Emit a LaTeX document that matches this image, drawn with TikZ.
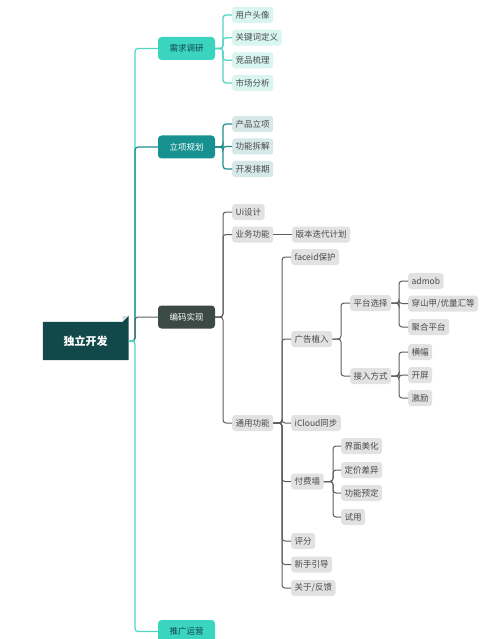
\documentclass[tikz,border=0pt]{standalone}
\usepackage{fontspec}
\setmainfont{Noto Sans CJK SC}
\definecolor{rootc}{HTML}{12484A}
\definecolor{turq}{HTML}{3AD4BF}
\definecolor{teal2}{HTML}{17918F}
\definecolor{darkg}{HTML}{3B4A45}
\definecolor{turqL}{HTML}{D8F5F0}
\definecolor{tealL}{HTML}{D6E8E8}
\definecolor{grayL}{HTML}{E2E2E2}
\definecolor{lnturq}{HTML}{4DD6C3}
\definecolor{lnteal}{HTML}{1E8E8C}
\definecolor{lngray}{HTML}{5E5E5E}
\definecolor{txtd}{HTML}{4A4A4A}
\newcommand\mmconn[4]{\draw[#1] (#2.east) -- (#2.east -| #3) |- (#4.west);}
\begin{document}
\begin{tikzpicture}[x=1bp,y=-1bp,
  lone/.style={rounded corners=3.5bp, minimum width=57bp, minimum height=23bp, inner sep=0pt,
    font=\fontsize{8.5bp}{10bp}\selectfont},
  leaf/.style={rounded corners=3bp, minimum height=16bp, inner xsep=3.5bp, inner ysep=0pt,
    anchor=west, text=txtd, font=\fontsize{8.5bp}{10bp}\selectfont},
  la/.style={leaf, fill=turqL},
  lb/.style={leaf, fill=tealL},
  lc/.style={leaf, fill=grayL},
  ea/.style={draw=lnturq, line width=1.2bp, rounded corners=3bp},
  eb/.style={draw=lnteal, line width=1.2bp, rounded corners=3bp},
  ec/.style={draw=lngray, line width=1bp, rounded corners=3bp}
]
\useasboundingbox (0,0) rectangle (500,639);
\fill[white] (0,0) rectangle (500,639);

% bracket coordinates
\coordinate (s) at (135,0);
\coordinate (b1) at (223,0);
\coordinate (b3) at (223,0);
\coordinate (b5) at (282,0);
\coordinate (b6) at (341,0);
\coordinate (b7) at (399,0);
\coordinate (b9) at (333,0);

% root
\node[minimum width=85.5bp, minimum height=38bp, inner sep=0pt] (r) at (85.7,341) {};
\fill[rootc] (r.south west) -- (r.north west) -- ([xshift=-6bp]r.north east) -- ([yshift=6bp]r.north east) -- (r.south east) -- cycle;
\fill[white!82!rootc] ([xshift=-6bp]r.north east) -- ([yshift=6bp]r.north east) -- ([xshift=-6bp,yshift=6bp]r.north east) -- cycle;
\node[text=white, font=\fontsize{11bp}{13bp}\selectfont\bfseries] at (r) {独立开发};

% level 1
\node[lone, fill=turq, text=rootc] (n1) at (186.5,48.5) {需求调研};
\node[lone, fill=teal2, text=white] (n2) at (186.5,147) {立项规划};
\node[lone, fill=darkg, text=white] (n3) at (186.5,317) {编码实现};
\node[lone, fill=turq, text=rootc] (n4) at (186.5,631.5) {推广运营};

\mmconn{ea}{r}{s}{n1}
\mmconn{ea}{r}{s}{n4}
\mmconn{eb}{r}{s}{n2}
\mmconn{ec}{r}{s}{n3}
\draw[ea] (r.east) -- (r.east -| s);

% 需求调研 children
\node[la] (a1) at (232,15) {用户头像};
\node[la] (a2) at (232,37.7) {关键词定义};
\node[la] (a3) at (232,60.3) {竞品梳理};
\node[la] (a4) at (232,83) {市场分析};
\foreach \c in {a1,a2,a3,a4} {\mmconn{ea}{n1}{b1}{\c}}

% 立项规划 children
\node[lb] (p1) at (232,124) {产品立项};
\node[lb] (p2) at (232,146.5) {功能拆解};
\node[lb] (p3) at (232,169) {开发排期};
\foreach \c in {p1,p2,p3} {\mmconn{eb}{n2}{b1}{\c}}

% 编码实现 children
\node[lc] (c1) at (232,212) {Ui设计};
\node[lc] (c2) at (232,234.5) {业务功能};
\node[lc] (c3) at (232,423) {通用功能};
\foreach \c in {c1,c2,c3} {\mmconn{ec}{n3}{b3}{\c}}
\node[lc] (c21) at (292,234.5) {版本迭代计划};
\draw[ec] (c2.east) -- (c21.west);

% 通用功能 children
\node[lc] (g1) at (291,257) {faceid保护};
\node[lc] (g2) at (291,339) {广告植入};
\node[lc] (g3) at (291,423) {iCloud同步};
\node[lc] (g4) at (291,481.5) {付费墙};
\node[lc] (g5) at (291,541) {评分};
\node[lc] (g6) at (291,564.5) {新手引导};
\node[lc] (g7) at (291,588) {关于/反馈};
\foreach \c in {g1,g2,g3,g4,g5,g6,g7} {\mmconn{ec}{c3}{b5}{\c}}

% 广告植入 children
\node[lc] (h1) at (350,303) {平台选择};
\node[lc] (h2) at (350,376) {接入方式};
\foreach \c in {h1,h2} {\mmconn{ec}{g2}{b6}{\c}}

\node[lc] (k1) at (408,281) {admob};
\node[lc] (k2) at (408,303.5) {穿山甲/优量汇等};
\node[lc] (k3) at (408,327) {聚合平台};
\foreach \c in {k1,k2,k3} {\mmconn{ec}{h1}{b7}{\c}}

\node[lc] (m1) at (408,352) {横幅};
\node[lc] (m2) at (408,375) {开屏};
\node[lc] (m3) at (408,398) {激励};
\foreach \c in {m1,m2,m3} {\mmconn{ec}{h2}{b7}{\c}}

% 付费墙 children
\node[lc] (f1) at (341,446) {界面美化};
\node[lc] (f2) at (341,470) {定价差异};
\node[lc] (f3) at (341,493) {功能预定};
\node[lc] (f4) at (341,517) {试用};
\foreach \c in {f1,f2,f3,f4} {\mmconn{ec}{g4}{b9}{\c}}
\end{tikzpicture}
\end{document}
